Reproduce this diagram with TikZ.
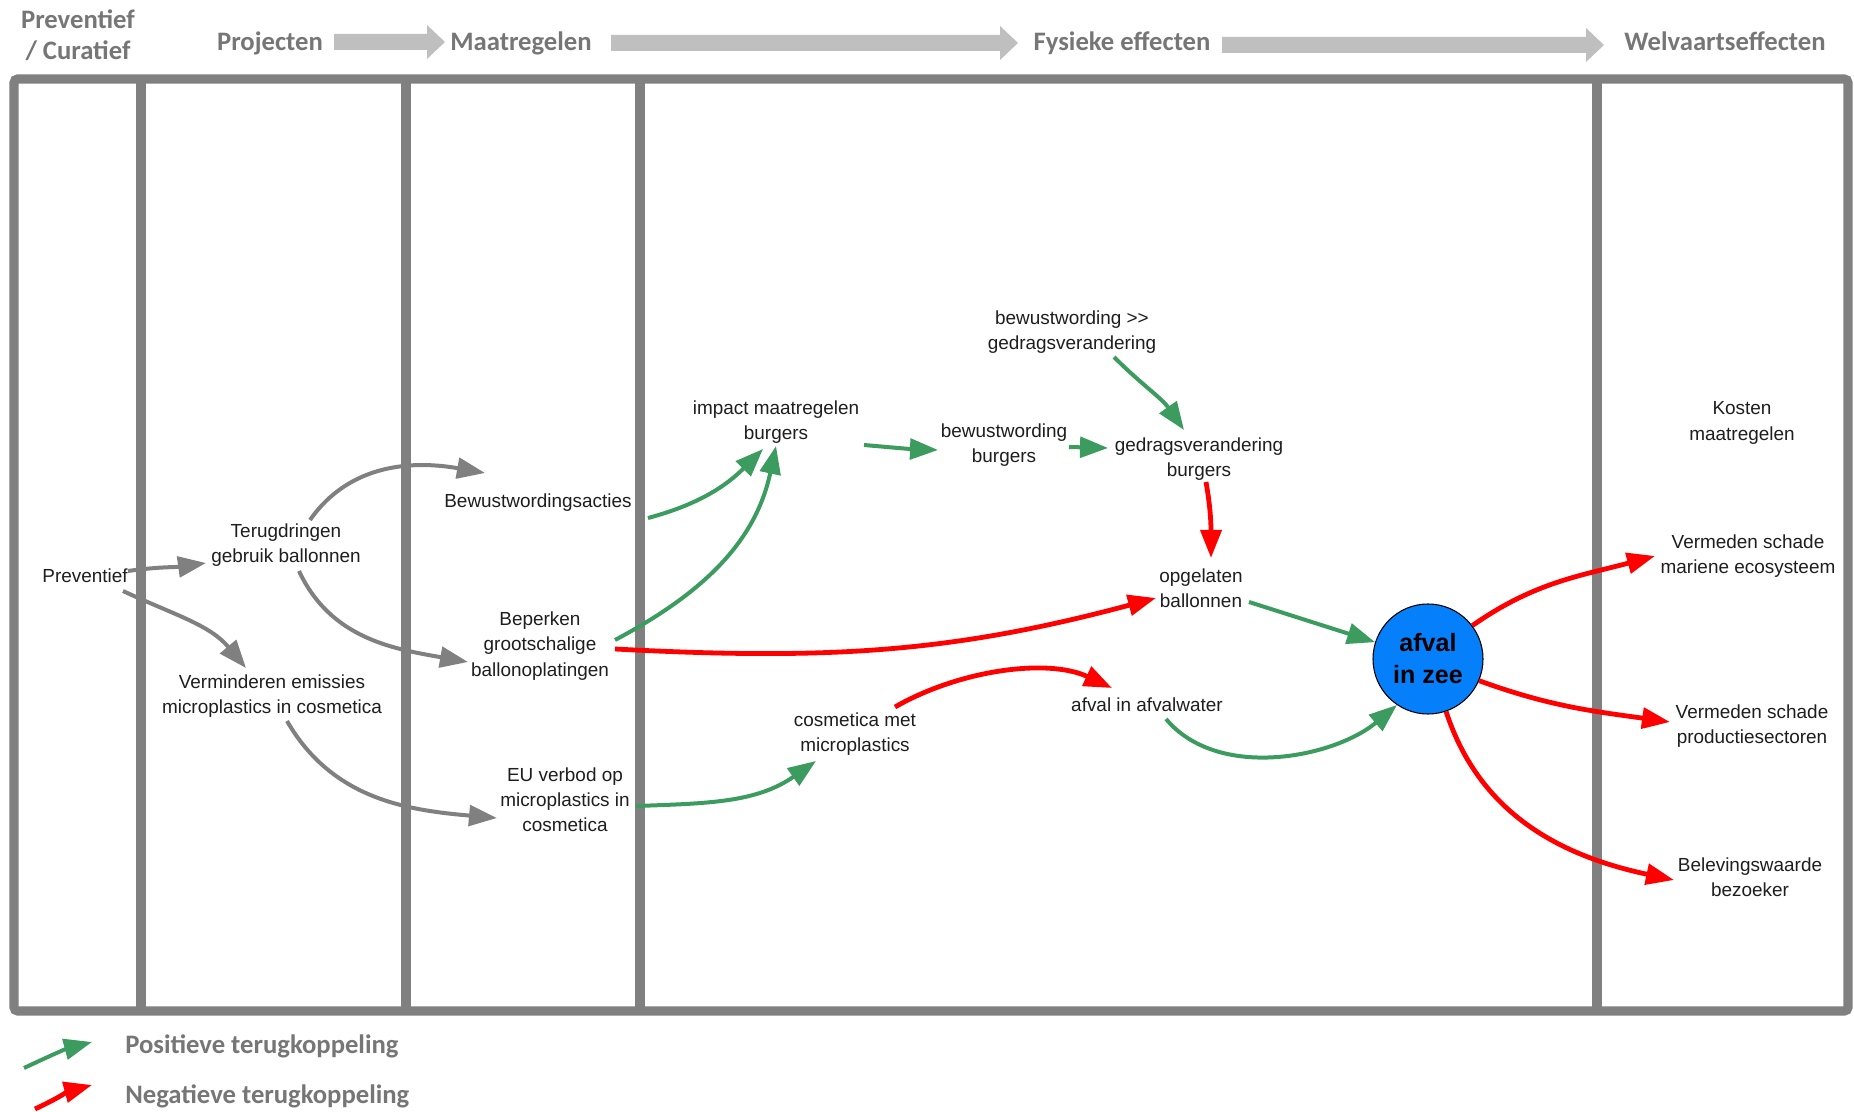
\documentclass[tikz,border=0pt]{standalone}
\usepackage{fontspec}
\setmainfont{Liberation Sans}
\newfontfamily\headfont{Carlito}
\usetikzlibrary{arrows.meta,calc}

\definecolor{framegray}{RGB}{128,128,128}
\definecolor{bandgray}{RGB}{191,191,191}
\definecolor{headgray}{RGB}{118,118,118}
\definecolor{posgreen}{RGB}{60,155,95}
\definecolor{negred}{RGB}{255,0,0}
\definecolor{seablue}{RGB}{5,128,250}
\definecolor{txt}{RGB}{30,30,30}

% block arrow in the header row: #1 = left x, #2 = tip x, #3 = centre y
\newcommand\bandarrow[3]{%
  \fill[band] (#1,{-(#3-8)}) -- ({#2-18},{-(#3-8)}) -- ({#2-18},{-(#3-17)}) -- (#2,{-#3})
    -- ({#2-18},{-(#3+17)}) -- ({#2-18},{-(#3+8)}) -- (#1,{-(#3+8)}) -- cycle;}

\begin{document}
\begin{tikzpicture}[x=0.75pt,y=0.75pt,
  lbl/.style={align=center,inner sep=2pt,text=txt,font=\fontsize{14.2}{18.9}\selectfont},
  ttl/.style={anchor=base,inner sep=0pt,text=headgray,font=\headfont\bfseries\fontsize{20}{24}\selectfont},
  band/.style={fill=bandgray},
  wall/.style={draw=framegray,line width=7pt},
  link/.style={line width=3pt,-{Triangle[length=21pt,width=15.5pt]}},
  gry/.style={link,draw=framegray},
  grn/.style={link,draw=posgreen},
  rd/.style={link,draw=negred,line width=3.6pt},
]
\useasboundingbox (0,0) rectangle (1854,-1112);
\fill[white] (0,0) rectangle (1854,-1112);

% header row
\node[ttl] (hpc1) at (78,-29) {Preventief};
\node[ttl] (hpc2) at (78,-60) {/ Curatief};
\node[ttl] (hproj) at (270,-51) {Projecten};
\node[ttl] (hmaat) at (521,-51) {Maatregelen};
\node[ttl] (hfys) at (1122,-51) {Fysieke effecten};
\node[ttl] (hwel) at (1725,-51) {Welvaartseffecten};
\bandarrow{334}{445}{42}
\bandarrow{611}{1018}{43}
\bandarrow{1222}{1604}{45}

% frame and columns
\draw[wall,rounded corners=3pt] (14,-79) rectangle (1848,-1011);
\foreach \cx in {141,406,640,1597}
  \draw[wall] (\cx,-79) -- (\cx,-1011);

% nodes
\node[lbl] (prev) at (85,-576) {Preventief};
\node[lbl] (terug) at (286,-545) {Terugdringen\\gebruik ballonnen};
\node[lbl] (vermin) at (272,-696) {Verminderen emissies\\microplastics in cosmetica};
\node[lbl] (bewust) at (538,-503) {Bewustwordingsacties};
\node[lbl] (beperken) at (540,-646) {Beperken\\grootschalige\\ballonoplatingen};
\node[lbl] (eu) at (565,-800) {EU verbod op\\microplastics in\\cosmetica};
\node[lbl] (impact) at (776,-422) {impact maatregelen\\burgers};
\node[lbl] (bb) at (1004,-445) {bewustwording\\burgers};
\node[lbl] (bg) at (1072,-332) {bewustwording {>}{>}\\gedragsverandering};
\node[lbl] (gedrag) at (1199,-459) {gedragsverandering\\burgers};
\node[lbl] (opg) at (1201,-588) {opgelaten\\ballonnen};
\node[lbl] (cosm) at (855,-734) {cosmetica met\\microplastics};
\node[lbl] (afw) at (1147,-705) {afval in afvalwater};
\node[circle,fill=seablue,draw=black,line width=0.8pt,minimum size=82.5pt,inner sep=0pt,
      align=center,font=\bfseries\fontsize{18.8}{24}\selectfont] (zee) at (1428,-659) {afval\\in zee};
\node[lbl] (kosten) at (1742,-423) {Kosten\\maatregelen};
\node[lbl] (mar) at (1748,-556) {Vermeden schade\\mariene ecosysteem};
\node[lbl] (prod) at (1752,-726) {Vermeden schade\\productiesectoren};
\node[lbl] (bel) at (1750,-877) {Belevingswaarde\\bezoeker};

% project links
\draw[gry] ($(prev)+(43,5)$) to[out=8,in=188] ($(terug)+(-80,-18)$);
\draw[gry] ($(prev)+(38,-15)$) to[out=-25,in=130] ($(vermin)+(-26,28)$);
\draw[gry] ($(terug)+(24,25)$) to[out=55,in=170] ($(bewust)+(-53,30)$);
\draw[gry] ($(terug)+(13,-26)$) to[out=-65,in=170] ($(beperken)+(-72,-16)$);
\draw[gry] ($(vermin)+(15,-25)$) to[out=-60,in=175] ($(eu)+(-68,-18)$);

% positive feedback
\draw[grn] ($(bewust)+(110,-15)$) to[out=15,in=225] ($(impact)+(-13,-27)$);
\draw[grn] ($(beperken)+(75,6)$) to[out=28,in=258] ($(impact)+(0,-24)$);
\draw[grn] ($(impact)+(88,-23)$) to[out=-5,in=178] ($(bb)+(-66,-5)$);
\draw[grn] ($(bb)+(65,-2)$) -- ($(gedrag)+(-91,11)$);
\draw[grn] ($(bg)+(42,-25)$) to[out=-45,in=125] ($(gedrag)+(-15,29)$);
\draw[grn] ($(opg)+(48,-14)$) -- (zee);
\draw[grn] ($(eu)+(71,-6)$) to[out=2,in=215] ($(cosm)+(-39,-27)$);
\draw[grn] ($(afw)+(19,-14)$) to[out=-50,in=220,looseness=0.9] (zee.236);

% negative feedback
\draw[rd] ($(gedrag)+(7,-23)$) to[out=-80,in=90] ($(opg)+(10,30)$);
\draw[rd] ($(beperken)+(75,-3)$) to[out=-3,in=195] ($(opg)+(-45,-10)$);
\draw[rd] ($(cosm)+(40,27)$) to[out=30,in=155,looseness=0.85] ($(afw)+(-35,17)$);
\draw[rd] (zee.37) to[out=35,in=195] ($(mar)+(-93,0)$);
\draw[rd] (zee.-23) to[out=-20,in=172] ($(prod)+(-82,4)$);
\draw[rd] (zee.-71) to[out=-72,in=168] ($(bel)+(-76,-3)$);

% legend
\coordinate (pos0) at (24,-1068);
\coordinate (pos1) at (92,-1042);
\coordinate (neg0) at (35,-1109);
\coordinate (neg1) at (92,-1085);
\draw[grn] (pos0) to[out=25,in=195] (pos1);
\draw[rd] (neg0) to[out=25,in=195] (neg1);
\node[ttl,anchor=base west] (lpos) at (125,-1053) {Positieve terugkoppeling};
\node[ttl,anchor=base west] (lneg) at (125,-1103) {Negatieve terugkoppeling};
\end{tikzpicture}
\end{document}
